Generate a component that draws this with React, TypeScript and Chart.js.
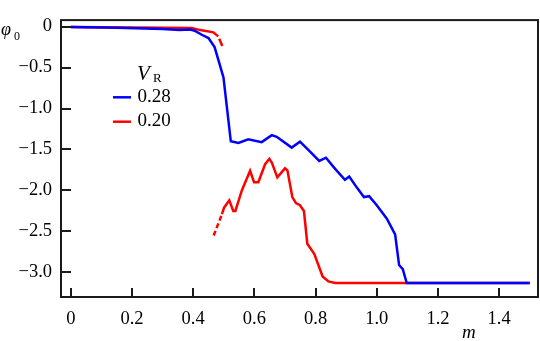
import React, { useEffect, useRef } from "react";
import { Chart, registerables } from "chart.js";

Chart.register(...registerables);

// V_R = 0.28 (blue)
const blueM = [0, 0.15, 0.3, 0.355, 0.39, 0.405, 0.428, 0.45, 0.47, 0.488, 0.499, 0.523, 0.548, 0.58, 0.624, 0.657, 0.673, 0.722, 0.749, 0.782, 0.812, 0.834, 0.864, 0.896, 0.91, 0.935, 0.958, 0.975, 1.0, 1.033, 1.06, 1.073, 1.085, 1.098, 1.5];
const bluePhi = [-0.005, -0.015, -0.03, -0.042, -0.035, -0.05, -0.1, -0.14, -0.25, -0.48, -0.62, -1.4, -1.42, -1.375, -1.41, -1.325, -1.345, -1.477, -1.405, -1.527, -1.64, -1.6, -1.736, -1.87, -1.83, -1.965, -2.08, -2.07, -2.18, -2.345, -2.535, -2.91, -2.96, -3.13, -3.13];

// V_R = 0.20 (red), upper branch (last segment dashed)
const redM1 = [0, 0.2, 0.395, 0.423, 0.466, 0.482, 0.496];
const redPhi1 = [-0.005, -0.01, -0.016, -0.043, -0.07, -0.12, -0.245];

// V_R = 0.20 (red), lower branch (first segment dashed)
const redM2 = [0.467, 0.494, 0.501, 0.518, 0.531, 0.538, 0.559, 0.586, 0.599, 0.613, 0.635, 0.649, 0.657, 0.675, 0.7, 0.708, 0.724, 0.736, 0.749, 0.762, 0.773, 0.796, 0.823, 0.842, 0.864, 1.5];
const redPhi2 = [-2.55, -2.29, -2.21, -2.12, -2.25, -2.25, -2.0, -1.76, -1.9, -1.9, -1.68, -1.614, -1.66, -1.84, -1.73, -1.755, -2.08, -2.155, -2.18, -2.25, -2.65, -2.775, -3.05, -3.11, -3.13, -3.13];

const xTicks = [0, 0.2, 0.4, 0.6, 0.8, 1.0, 1.2, 1.4];
const yTicks = [0, -0.5, -1.0, -1.5, -2.0, -2.5, -3.0];
const legendLabels = ["0.28", "0.20"];
const legendColors = ["#0000ff", "#ff0000"];

const SERIF = '"Liberation Serif", "Times New Roman", serif';

const toXY = (ms: number[], ps: number[]) => ms.map((m, i) => ({ x: m, y: ps[i] }));

const decorPlugin = {
  id: "decor",
  afterDraw(chart: any) {
    const { ctx, chartArea } = chart;
    const xs = chart.scales.x;
    const ys = chart.scales.y;
    ctx.save();
    // frame
    ctx.strokeStyle = "#1a1a1a";
    ctx.lineWidth = 2;
    ctx.strokeRect(chartArea.left, chartArea.top, chartArea.right - chartArea.left, chartArea.bottom - chartArea.top);
    // inward ticks
    ctx.lineWidth = 2;
    ctx.beginPath();
    xTicks.forEach((v) => {
      const px = Math.round(xs.getPixelForValue(v));
      ctx.moveTo(px, chartArea.bottom);
      ctx.lineTo(px, chartArea.bottom - 9);
    });
    yTicks.forEach((v) => {
      const py = Math.round(ys.getPixelForValue(v));
      ctx.moveTo(chartArea.left, py);
      ctx.lineTo(chartArea.left + 10, py);
    });
    ctx.stroke();

    ctx.fillStyle = "#000";
    ctx.textBaseline = "alphabetic";
    ctx.textAlign = "left";
    // y title
    ctx.font = `italic 18px ${SERIF}`;
    ctx.fillText("φ", 1, 35);
    ctx.font = `12px ${SERIF}`;
    ctx.fillText("0", 14, 39.5);
    // x title
    ctx.font = `italic 19px ${SERIF}`;
    ctx.fillText("m", 462, 338);

    // legend
    ctx.font = `italic 21px ${SERIF}`;
    ctx.fillText("V", 137, 80);
    ctx.font = `13px ${SERIF}`;
    ctx.fillText("R", 153, 82);
    legendLabels.forEach((lab, i) => {
      const y = 97.3 + i * 24.4;
      ctx.strokeStyle = legendColors[i];
      ctx.lineWidth = 2.5;
      ctx.beginPath();
      ctx.moveTo(113, y);
      ctx.lineTo(131, y);
      ctx.stroke();
      ctx.fillStyle = "#000";
      ctx.font = `19px ${SERIF}`;
      ctx.fillText(lab, 137.5, y + 4.6);
    });
    ctx.restore();
  },
};

export default function App() {
  const ref = useRef<HTMLCanvasElement | null>(null);
  useEffect(() => {
    if (!ref.current) return;
    const chart = new Chart(ref.current, {
      type: "line",
      data: {
        datasets: [
          {
            label: "0.28",
            data: toXY(blueM, bluePhi),
            borderColor: "#0000ff",
            borderWidth: 2.5,
            pointRadius: 0,
            tension: 0,
            fill: false,
          },
          {
            label: "0.20",
            data: toXY(redM1, redPhi1),
            borderColor: "#ff0000",
            borderWidth: 2.5,
            pointRadius: 0,
            tension: 0,
            fill: false,
            segment: {
              borderDash: (c: any) => (c.p0DataIndex === redM1.length - 2 ? [0, 2.5, 8, 100] : undefined),
            },
          },
          {
            label: "0.20b",
            data: toXY(redM2, redPhi2),
            borderColor: "#ff0000",
            borderWidth: 2.5,
            pointRadius: 0,
            tension: 0,
            fill: false,
            segment: {
              borderDash: (c: any) => (c.p0DataIndex === 0 ? [5, 3] : undefined),
            },
          },
        ],
      },
      options: {
        responsive: false,
        animation: false,
        layout: { padding: { top: 1, right: 2, left: 0, bottom: 0 } },
        plugins: { legend: { display: false }, tooltip: { enabled: false } },
        scales: {
          x: {
            type: "linear",
            min: -0.032,
            max: 1.527,
            grid: { display: false, drawTicks: false, tickLength: 0 },
            border: { display: false },
            afterBuildTicks: (s: any) => {
              s.ticks = xTicks.map((v) => ({ value: v }));
            },
            afterFit: (s: any) => {
              s.height = 44;
            },
            ticks: {
              autoSkip: false,
              maxRotation: 0,
              padding: 11,
              color: "#000",
              font: { family: SERIF, size: 18.5 },
              callback: (v: any) => (Number(v) === 0 ? "0" : Number(v).toFixed(1)),
            },
          },
          y: {
            type: "linear",
            min: -3.3,
            max: 0.079,
            grid: { display: false, drawTicks: false, tickLength: 0 },
            border: { display: false },
            afterBuildTicks: (s: any) => {
              s.ticks = yTicks.map((v) => ({ value: v }));
            },
            afterFit: (s: any) => {
              s.width = 61;
            },
            ticks: {
              autoSkip: false,
              padding: 9,
              color: "#000",
              font: { family: SERIF, size: 18.5 },
              callback: (v: any) => (Number(v) === 0 ? "0" : "\u2212" + Math.abs(Number(v)).toFixed(1)),
            },
          },
        },
      },
      plugins: [decorPlugin],
    });
    return () => chart.destroy();
  }, []);
  return (
    <div style={{ position: "absolute", left: 0, top: 0, width: 540, height: 341, background: "#fff" }}>
      <canvas ref={ref} width={540} height={341} style={{ display: "block" }} />
    </div>
  );
}
